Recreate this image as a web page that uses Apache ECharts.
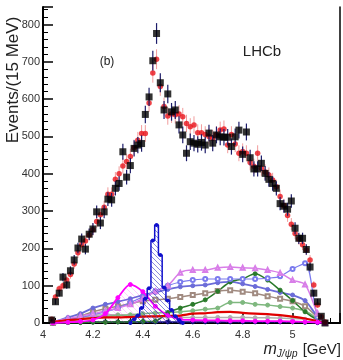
<!DOCTYPE html>
<html>
<head>
<meta charset="utf-8">
<script src="https://cdn.jsdelivr.net/npm/echarts@6/dist/echarts.min.js"></script>
<style>
  html, body { margin: 0; padding: 0; background: #fff; }
  #chart { width: 343px; height: 360px; }
</style>
</head>
<body>
<div id="chart"></div>
<script>
// m(J/psi p) spectrum, 15 MeV bins starting at 4.035 GeV
const binStart = 4.035;
const binWidth = 0.015;

const dataCounts = [
  8, 57, 80, 123, 102, 140, 169, 201, 225, 198,
  238, 252, 298, 268, 298, 332, 330, 361, 374, 459,
  391, 422, 468, 477, 481, 559, 606, 703, 776, 644,
  571, 614, 566, 571, 531, 504, 455, 486, 482, 479,
  484, 477, 509, 482, 504, 499, 498, 498, 473, 499,
  517, 452, 512, 443, 413, 413, 428, 401, 385, 374,
  361, 320, 313, 305, 327, 254, 227, 227, 197, 150,
  80, 57, 18, 0
];

const fitValues = [
  10, 70, 92, 100, 115, 130, 158, 188, 210, 220,
  236, 250, 272, 290, 310, 345, 345, 385, 400, 421,
  433, 446, 470, 490, 508, 508, 590, 670, 707, 634,
  580, 555, 560, 558, 560, 553, 535, 526, 531, 510,
  510, 505, 500, 495, 505, 517, 520, 477, 505, 480,
  455, 460, 455, 430, 420, 455, 415, 405, 397, 383,
  365, 339, 315, 288, 265, 240, 225, 210, 196, 169,
  102, 48, 17, 3
];

// Pc(4450) histogram
const pc4450Mass = [4.35, 4.365, 4.38, 4.395, 4.41, 4.425, 4.44, 4.455, 4.47, 4.485, 4.5, 4.515, 4.53, 4.545, 4.56];
const pc4450Vals = [0, 10, 20, 40, 65, 93, 221, 263, 182, 95, 60, 35, 18, 8, 0];

// fit components, read on a coarse mass grid
const compMass   = [4.04, 4.1, 4.15, 4.2, 4.25, 4.3, 4.35, 4.4, 4.45, 4.5, 4.55, 4.6, 4.65, 4.7, 4.75, 4.8, 4.85, 4.9, 4.95, 5.0, 5.05, 5.1, 5.13];
const pc4380     = [0, 2, 4, 8, 25, 68, 103, 84, 45, 20, 10, 8, 7, 7, 6, 6, 5, 5, 5, 4, 3, 2, 0];
const lilacComp  = [3, 12, 18, 25, 32, 40, 50, 65, 85, 100, 135, 142, 142, 148, 150, 148, 147, 142, 134, 115, 103, 26, 0];
const blueOpen   = [2, 10, 15, 22, 30, 40, 55, 70, 85, 100, 110, 115, 118, 118, 118, 118, 118, 120, 125, 145, 160, 15, 0];
const periComp   = [2, 15, 25, 40, 50, 57, 65, 75, 82, 90, 97, 100, 102, 108, 110, 105, 98, 90, 82, 75, 60, 17, 0];
const brownComp  = [0, 8, 18, 30, 38, 45, 52, 58, 62, 65, 70, 75, 80, 86, 88, 84, 80, 72, 65, 58, 45, 15, 0];
const darkGreen  = [0, 1, 1, 2, 2, 3, 3, 4, 5, 28, 40, 50, 62, 85, 110, 118, 132, 115, 88, 60, 30, 8, 0];
const paleGreen  = [0, 5, 10, 15, 18, 20, 22, 25, 27, 28, 30, 33, 37, 40, 55, 55, 50, 48, 44, 40, 32, 12, 0];
const redComp    = [3, 8, 10, 13, 15, 15, 16, 17, 18, 19, 20, 25, 26, 29, 30, 27, 25, 24, 21, 17, 12, 5, 0];
const greyComp   = [3, 10, 15, 20, 22, 22, 20, 18, 17, 16, 15, 15, 15, 15, 15, 15, 14, 14, 13, 12, 10, 4, 0];
const navyComp   = [0, 2, 3, 3, 3, 3, 3, 3, 3, 3, 3, 3, 3, 3, 3, 3, 3, 3, 3, 3, 2, 1, 0];

const xTickLabels = ["4", "4.2", "4.4", "4.6", "4.8", "5"];

const FONT = "Liberation Sans, Arial, sans-serif";
const binCenters = dataCounts.map((_, i) => binStart + binWidth * i);

function hatchPattern(color, size) {
  const c = document.createElement("canvas");
  c.width = size; c.height = size;
  const g = c.getContext("2d");
  g.strokeStyle = color; g.lineWidth = 0.8;
  g.beginPath();
  g.moveTo(0, 0); g.lineTo(size, size);
  g.moveTo(-1, size - 1); g.lineTo(1, size + 1);
  g.moveTo(size - 1, -1); g.lineTo(size + 1, 1);
  g.stroke();
  return { image: c, repeat: "repeat" };
}

function comp(vals, color, symbol, width, z) {
  return {
    type: "line",
    data: compMass.map((m, i) => [m, vals[i]]),
    smooth: 0.3,
    symbol: symbol,
    symbolSize: 4,
    showSymbol: symbol !== "none",
    lineStyle: { color: color, width: width },
    itemStyle: { color: color, borderColor: color },
    z: z || 2,
    silent: true,
  };
}

// Poisson error bars drawn through the axis scales
function errBars(vals, color, width, z) {
  return {
    type: "custom",
    silent: true,
    z: z,
    data: binCenters.map((m, i) => [m, vals[i]]),
    renderItem: (params, api) => {
      const x = api.value(0), y = api.value(1);
      const e = Math.sqrt(Math.max(y, 1));
      const top = api.coord([x, y + e]);
      const bot = api.coord([x, Math.max(y - e, 0)]);
      return {
        type: "line",
        shape: { x1: top[0], y1: top[1], x2: bot[0], y2: bot[1] },
        style: { stroke: color, lineWidth: width },
      };
    },
  };
}

const chart = echarts.init(document.getElementById("chart"));

chart.setOption({
  animation: false,
  backgroundColor: "#fff",
  grid: { left: 43, right: 2, top: 7, bottom: 37 },
  xAxis: [
    {
      type: "value",
      min: 4,
      max: 5.19,
      interval: 0.2,
      axisLine: { lineStyle: { color: "#000", width: 2 } },
      axisTick: { inside: true, length: 10, lineStyle: { color: "#000", width: 1.5 } },
      minorTick: { show: true, splitNumber: 4, length: 5, lineStyle: { color: "#000", width: 1 } },
      splitLine: { show: false },
      axisLabel: {
        color: "#333", fontSize: 11, fontFamily: FONT, margin: 6,
        formatter: (v) => {
          const k = Math.round((v - 4) / 0.2);
          return Math.abs(v - 4 - k * 0.2) < 1e-6 ? (xTickLabels[k] || "") : "";
        },
      },
    },
    {
      type: "value", position: "top", min: 4, max: 5.19,
      axisLine: { show: true, lineStyle: { color: "#000", width: 1.5 } },
      axisTick: { show: false }, axisLabel: { show: false }, splitLine: { show: false },
    },
  ],
  yAxis: [
    {
      type: "value",
      min: 0,
      max: 847,
      interval: 100,
      axisLine: { show: true, lineStyle: { color: "#000", width: 2 } },
      axisTick: { inside: true, length: 10, lineStyle: { color: "#000", width: 1.5 } },
      minorTick: { show: true, splitNumber: 5, length: 5, lineStyle: { color: "#000", width: 1 } },
      splitLine: { show: false },
      axisLabel: {
        color: "#333", fontSize: 11, fontFamily: FONT, margin: 3,
        formatter: (v) => (v % 100 === 0 ? String(v) : ""),
      },
    },
    {
      type: "value", position: "right", min: 0, max: 847,
      axisLine: { show: true, lineStyle: { color: "#000", width: 1.5 } },
      axisTick: { show: false }, axisLabel: { show: false }, splitLine: { show: false },
    },
  ],
  series: [
    comp(navyComp, "#10107a", "circle", 1.5, 2),
    comp(greyComp, "#b0b0b0", "circle", 1.5, 2),
    comp(redComp, "#e00000", "none", 2.2, 3),
    comp(paleGreen, "#7fb87f", "circle", 1.5, 2),
    comp(brownComp, "#a08a80", "emptyRect", 1.5, 2),
    comp(periComp, "#6b6bd8", "circle", 1.8, 2),
    comp(darkGreen, "#2a7a2a", "circle", 1.5, 2),
    comp(blueOpen, "#7a7aee", "emptyCircle", 1.2, 2),
    comp(lilacComp, "#d87ee8", "emptyTriangle", 1.5, 2),
    Object.assign(comp(pc4380, "#ff00ff", "circle", 1.8, 3), {
      areaStyle: { color: hatchPattern("rgba(255,0,255,0.35)", 6) },
    }),
    {
      type: "line",
      step: "middle",
      data: pc4450Mass.map((m, i) => [m, pc4450Vals[i]]),
      symbol: "circle",
      symbolSize: 4,
      lineStyle: { color: "#1010cc", width: 1.5 },
      itemStyle: { color: "#1010cc" },
      areaStyle: { color: hatchPattern("rgba(60,60,200,0.75)", 5), opacity: 1 },
      z: 4,
      silent: true,
    },
    errBars(fitValues, "rgba(230,60,60,0.5)", 1, 5),
    {
      type: "scatter",
      data: binCenters.map((m, i) => [m, fitValues[i]]),
      symbol: "circle",
      symbolSize: 5.5,
      itemStyle: { color: "#e8141b" },
      z: 6,
      silent: true,
    },
    errBars(dataCounts, "#1c1c6a", 1.2, 7),
    {
      type: "scatter",
      data: binCenters.map((m, i) => [m, dataCounts[i]]),
      symbol: "rect",
      symbolSize: 7,
      itemStyle: { color: "#000" },
      z: 8,
      silent: true,
    },
  ],
  graphic: [
    {
      type: "text", x: 107, y: 62,
      style: { text: "(b)", fontSize: 12, fontFamily: FONT, fill: "#222", align: "center", verticalAlign: "middle" },
    },
    {
      type: "text", x: 262, y: 52,
      style: { text: "LHCb", fontSize: 15, fontFamily: FONT, fill: "#222", align: "center", verticalAlign: "middle" },
    },
    {
      type: "text", x: 13, y: 80, rotation: Math.PI / 2,
      style: { text: "Events/(15 MeV)", fontSize: 17, fontFamily: FONT, fill: "#222", align: "center", verticalAlign: "middle" },
    },
    {
      type: "text", x: 341, y: 350,
      style: {
        text: "{m|m}{s|J/ψp} [GeV]",
        fontSize: 15, fontFamily: FONT, fill: "#222", align: "right", verticalAlign: "middle",
        rich: {
          m: { fontStyle: "italic", fontSize: 16, fontFamily: FONT, fill: "#222" },
          s: { fontStyle: "italic", fontSize: 10, fontFamily: FONT, fill: "#222", padding: [9, 1, 0, 0] },
        },
      },
    },
  ],
});
</script>
</body>
</html>
